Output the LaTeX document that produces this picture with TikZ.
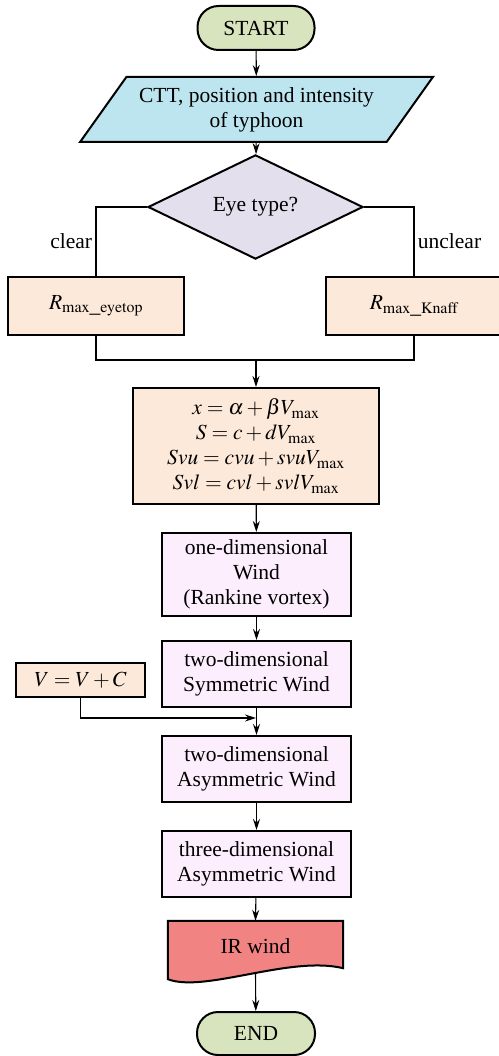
\documentclass[tikz,border=0pt]{standalone}
\usepackage{mathptmx}
\usepackage{fontspec}
\setmainfont{Liberation Serif}
\usetikzlibrary{shapes.geometric,arrows.meta,positioning,calc}
\definecolor{termgreen}{HTML}{D7E4BD}
\definecolor{inblue}{HTML}{BDE5EF}
\definecolor{decilac}{HTML}{E4DFEC}
\definecolor{peach}{HTML}{FDE9D9}
\definecolor{windpink}{HTML}{FDEEFD}
\definecolor{outred}{HTML}{F28383}

\begin{document}
\begin{tikzpicture}[
    x=1pt, y=-1pt,
    font=\fontsize{21.5}{25}\selectfont,
    box/.style={rectangle, draw, line width=2pt, align=center, inner sep=2pt},
    term/.style={box, fill=termgreen, rounded corners=21pt, minimum width=117pt, minimum height=44pt},
    calcbox/.style={box, fill=peach},
    windbox/.style={box, fill=windpink, minimum width=189pt, minimum height=66pt},
    line/.style={line width=1.1pt},
    arrow/.style={line, -{Stealth[length=11pt,width=7pt]}}
]
\useasboundingbox (0,0) rectangle (498,1056);

\node[term] (start) at (256,28) {START};
\node[trapezium, trapezium left angle=50, trapezium right angle=130, trapezium stretches=true,
      draw, line width=2pt, fill=inblue, align=center, minimum width=353pt, minimum height=65pt]
      (input) at (256.5,109.5) {CTT, position and intensity\\of typhoon};
\node[diamond, draw, line width=2pt, fill=decilac, minimum width=215pt, minimum height=72pt, inner sep=0pt]
      (eye) at (255.5,207) {Eye type?};
\node[calcbox, minimum width=176pt, minimum height=58pt] (rclear) at (96,306) {$R_{\mathrm{max\_eyetop}}$};
\node[calcbox, minimum width=176pt, minimum height=58pt] (runclear) at (414,306) {$R_{\mathrm{max\_Knaff}}$};
\node[calcbox, minimum width=246pt, minimum height=116pt] (param) at (256,446)
      {$x=\alpha+\beta V_{\max}$\\$S=c+dV_{\max}$\\$Svu=cvu+svuV_{\max}$\\$Svl=cvl+svlV_{\max}$};
\node[windbox, minimum height=83pt] (wind1d) at (256.5,574.5) {one-dimensional\\Wind\\(Rankine vortex)};
\node[windbox] (wind2ds) at (256.5,674) {two-dimensional\\Symmetric Wind};
\node[calcbox, minimum width=129pt, minimum height=34pt] (vcorr) at (80.5,680) {$V=V+C$};
\node[windbox] (wind2da) at (256.5,769) {two-dimensional\\Asymmetric Wind};
\node[windbox] (wind3da) at (256.5,864) {three-dimensional\\Asymmetric Wind};
\node[minimum width=175pt, minimum height=58pt, inner sep=0pt] (irwind) at (255.5,950) {};
\node[term, minimum width=118pt, minimum height=43pt] (stop) at (256,1033.5) {END};

\coordinate (merge) at (256,360);
\coordinate (vjoin) at (256,718);

\draw[arrow] (start) -- (input);
\draw[arrow] (input) -- (eye);
\draw[line] (eye.west) -| (rclear.north) node[pos=0.75, left] {clear};
\draw[line] (eye.east) -| (runclear.north) node[pos=0.75, right] {unclear};
\draw[line] (rclear.south) |- (merge) -| (runclear.south);
\draw[arrow] (merge) -- (param);
\draw[arrow] (param) -- (wind1d);
\draw[arrow] (wind1d) -- (wind2ds);
\draw[arrow] (vcorr.south) |- (vjoin);
\draw[arrow] (wind2ds) -- (wind2da);
\draw[arrow] (wind2da) -- (wind3da);
\draw[arrow] (wind3da) -- (irwind.north);
\draw[arrow] ([yshift=6pt]irwind.south) -- (stop);

% output document shape
\draw[line width=2pt, fill=outred] (irwind.north west) -- (irwind.north east)
    -- ($(irwind.south east)+(0,-11)$)
    .. controls ($(irwind.south east)+(-53,-24)$) and ($(irwind.south west)+(37,14)$) .. (irwind.south west)
    -- cycle;
\node at (irwind.center) [yshift=4pt] {IR wind};
\end{tikzpicture}
\end{document}
